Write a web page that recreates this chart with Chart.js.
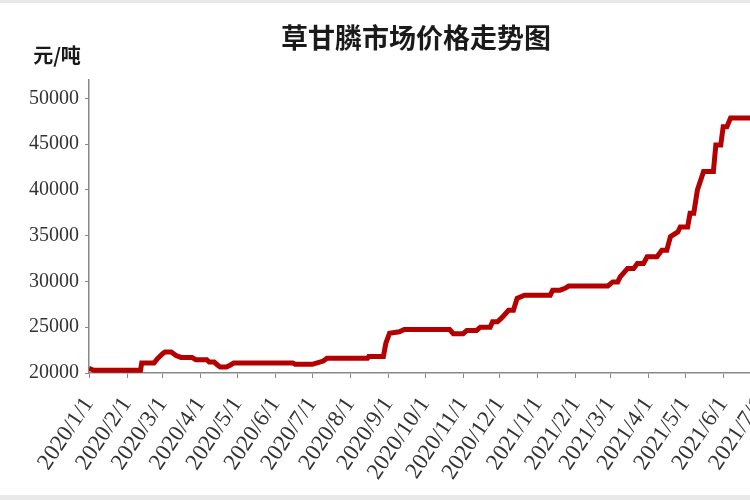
<!DOCTYPE html>
<html lang="zh-CN">
<head>
  <meta charset="UTF-8">
  <title>草甘膦市场价格走势图</title>
  <script src="https://cdn.jsdelivr.net/npm/chart.js"></script>
  <style>
    html, body { margin: 0; padding: 0; overflow: hidden; background: #e9e9e9; }
    #wrap { margin-top: 3px; width: 770px; height: 492px; background: #fff; }
    canvas { display: block; }
  </style>
</head>
<body>
<div id="wrap"><canvas id="priceChart" width="770" height="492"></canvas></div>

<script>
// 标题与单位
const chartTitle = '草甘膦市场价格走势图';
const unitLabel = '元/吨';

// 横轴刻度（每月1日）
const monthLabels = ['2020/1/1', '2020/2/1', '2020/3/1', '2020/4/1', '2020/5/1', '2020/6/1',
  '2020/7/1', '2020/8/1', '2020/9/1', '2020/10/1', '2020/11/1', '2020/12/1',
  '2021/1/1', '2021/2/1', '2021/3/1', '2021/4/1', '2021/5/1', '2021/6/1', '2021/7/1'];

// 纵轴刻度
const yTicks = [20000, 25000, 30000, 35000, 40000, 45000, 50000];

// 价格数据：日期 + 价格（元/吨）
const priceDates = [
  '2020/1/1', '2020/1/5', '2020/2/12', '2020/2/13', '2020/2/23', '2020/2/26', '2020/3/1',
  '2020/3/3', '2020/3/8', '2020/3/12', '2020/3/16', '2020/3/25', '2020/3/28', '2020/4/6',
  '2020/4/8', '2020/4/12', '2020/4/15', '2020/4/17', '2020/4/22', '2020/4/25', '2020/4/28',
  '2020/6/15', '2020/6/17', '2020/7/1', '2020/7/5', '2020/7/10', '2020/7/13', '2020/8/15',
  '2020/8/16', '2020/8/28', '2020/8/30', '2020/9/2', '2020/9/10', '2020/9/14', '2020/10/21',
  '2020/10/24', '2020/11/1', '2020/11/4', '2020/11/12', '2020/11/15', '2020/11/23', '2020/11/25',
  '2020/11/29', '2020/12/3', '2020/12/8', '2020/12/12', '2020/12/15', '2020/12/21', '2021/1/11',
  '2021/1/13', '2021/1/19', '2021/1/23', '2021/1/26', '2021/2/27', '2021/3/3', '2021/3/7',
  '2021/3/9', '2021/3/15', '2021/3/20', '2021/3/23', '2021/3/28', '2021/3/31', '2021/4/8',
  '2021/4/12', '2021/4/16', '2021/4/19', '2021/4/25', '2021/4/27', '2021/5/3', '2021/5/5',
  '2021/5/8', '2021/5/11', '2021/5/16', '2021/5/24', '2021/5/26', '2021/5/30', '2021/6/1',
  '2021/6/4', '2021/6/7', '2021/7/1'
];
const prices = [
  20500, 20300, 20300, 21100, 21100, 21600, 22100,
  22300, 22300, 21900, 21700, 21700, 21450, 21450,
  21200, 21200, 20850, 20650, 20650, 20850, 21100,
  21100, 20950, 20950, 21100, 21300, 21600, 21600,
  21800, 21800, 23250, 24350, 24500, 24750, 24750,
  24300, 24300, 24650, 24650, 25000, 25000, 25600,
  25600, 26100, 26850, 26850, 28150, 28500, 28500,
  29050, 29050, 29250, 29500, 29500, 29950, 29950,
  30500, 31400, 31400, 31950, 31950, 32700, 32700,
  33400, 33400, 34900, 35400, 35950, 35950, 37450,
  37450, 40000, 42000, 42000, 44900, 44900, 46900,
  46900, 47850, 47850
];

// 日期字符串 -> 距 2020/1/1 的天数
function dayIndex(s) {
  const p = s.split('/').map(Number);
  return (Date.UTC(p[0], p[1] - 1, p[2]) - Date.UTC(2020, 0, 1)) / 86400000;
}

const monthDays = monthLabels.map(dayIndex);
const points = priceDates.map((d, i) => ({ x: dayIndex(d), y: prices[i] }));

// 画标题和单位
const textPlugin = {
  id: 'texts',
  afterDraw(chart) {
    const ctx = chart.ctx;
    ctx.save();
    ctx.fillStyle = '#1a1a1a';
    ctx.textAlign = 'center';
    ctx.textBaseline = 'middle';
    ctx.font = 'bold 27px "Noto Sans CJK SC"';
    ctx.fillText(chartTitle, 416, 35);
    ctx.font = 'bold 20px "Noto Sans CJK SC"';
    ctx.fillText(unitLabel, 57, 52);
    ctx.restore();
  }
};

new Chart(document.getElementById('priceChart'), {
  type: 'line',
  data: {
    datasets: [{
      data: points,
      borderColor: '#b40000',
      borderWidth: 5,
      pointRadius: 0,
      tension: 0,
      fill: false
    }]
  },
  options: {
    responsive: false,
    animation: false,
    layout: { padding: { top: 77, right: 10, left: 0, bottom: 0 } },
    plugins: { legend: { display: false }, tooltip: { enabled: false } },
    scales: {
      x: {
        type: 'linear',
        min: 0,
        max: monthDays[monthDays.length - 1],
        afterBuildTicks: axis => { axis.ticks = monthDays.map(v => ({ value: v })); },
        afterFit: axis => { axis.height = 122; axis.paddingLeft = 0; axis.paddingRight = 0; },
        grid: { drawOnChartArea: false, tickLength: 5, color: '#888' },
        border: { color: '#888', width: 1.5 },
        ticks: {
          minRotation: 56,
          maxRotation: 56,
          padding: 14,
          color: '#333',
          font: { family: '"Liberation Serif"', size: 23 },
          callback: v => monthLabels[monthDays.indexOf(v)]
        }
      },
      y: {
        min: 20000,
        max: 52000,
        afterBuildTicks: axis => { axis.ticks = yTicks.map(v => ({ value: v })); },
        afterFit: axis => { axis.width = 89; axis.paddingTop = 0; axis.paddingBottom = 0; },
        grid: { drawOnChartArea: false, tickLength: 4, color: '#888' },
        border: { color: '#888', width: 1.5 },
        ticks: {
          padding: 6,
          color: '#333',
          font: { family: '"Liberation Serif"', size: 20 },
          callback: v => String(v)
        }
      }
    }
  },
  plugins: [textPlugin]
});
</script>
</body>
</html>
